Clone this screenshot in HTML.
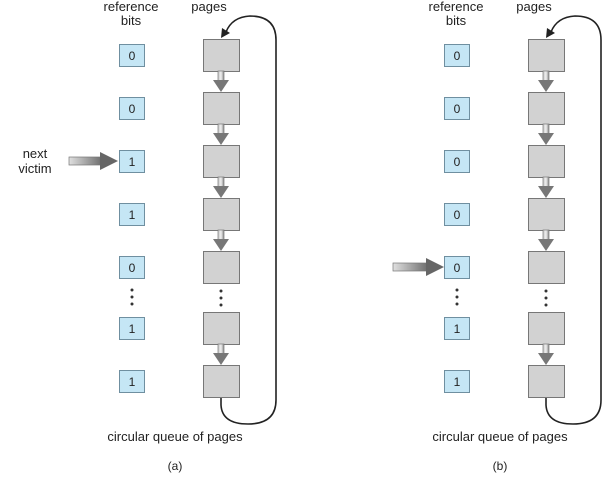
<!DOCTYPE html>
<html><head><meta charset="utf-8"><style>
html,body{margin:0;padding:0;background:#fff;}
svg{display:block;}
text{font-family:"Liberation Sans",sans-serif;fill:#222;}
</style></head><body>
<svg width="611" height="481" viewBox="0 0 611 481" xmlns="http://www.w3.org/2000/svg">
<defs>
<linearGradient id="sh" x1="0" y1="0" x2="1" y2="0">
<stop offset="0" stop-color="#e0e0e0"/><stop offset="1" stop-color="#6a6a6a"/>
</linearGradient>
<linearGradient id="dv" x1="0" y1="0" x2="1" y2="0">
<stop offset="0" stop-color="#c8c8c8"/><stop offset="0.5" stop-color="#f0f0f0"/><stop offset="1" stop-color="#888"/>
</linearGradient>
<g id="down">
<rect x="-3" y="0" width="6" height="10" fill="url(#dv)" stroke="#777" stroke-width="0.7"/>
<polygon points="-8,9 8,9 0,21" fill="#777"/>
</g>
<g id="panel">
<text x="131" y="11" font-size="13" text-anchor="middle">reference</text>
<text x="131" y="25" font-size="13" text-anchor="middle">bits</text>
<text x="209" y="11" font-size="13" text-anchor="middle">pages</text>
<g fill="#c5e6f5" stroke="#6f8fa0" stroke-width="1">
<rect x="119.5" y="44.5" width="25" height="22"/>
<rect x="119.5" y="97.5" width="25" height="22"/>
<rect x="119.5" y="150.5" width="25" height="22"/>
<rect x="119.5" y="203.5" width="25" height="22"/>
<rect x="119.5" y="256.5" width="25" height="22"/>
<rect x="119.5" y="317.5" width="25" height="22"/>
<rect x="119.5" y="370.5" width="25" height="22"/>
</g>
<g fill="#d2d2d2" stroke="#777" stroke-width="1">
<rect x="203.5" y="39.5" width="36" height="32"/>
<rect x="203.5" y="92.5" width="36" height="32"/>
<rect x="203.5" y="145.5" width="36" height="32"/>
<rect x="203.5" y="198.5" width="36" height="32"/>
<rect x="203.5" y="251.5" width="36" height="32"/>
<rect x="203.5" y="312.5" width="36" height="32"/>
<rect x="203.5" y="365.5" width="36" height="32"/>
</g>
<use href="#down" x="221" y="71"/>
<use href="#down" x="221" y="124"/>
<use href="#down" x="221" y="177"/>
<use href="#down" x="221" y="230"/>
<use href="#down" x="221" y="344"/>
<g fill="#333">
<circle cx="132" cy="290" r="1.5"/><circle cx="132" cy="297" r="1.5"/><circle cx="132" cy="304" r="1.5"/>
<circle cx="221" cy="291" r="1.5"/><circle cx="221" cy="298" r="1.5"/><circle cx="221" cy="305" r="1.5"/>
</g>
<path d="M276,400 L276,40 Q276,16 250,16 Q232,17 226,32" fill="none" stroke="#222" stroke-width="1.6"/>
<polygon points="221,38 222,28 230,33" fill="#222"/>
<path d="M221,398 L221,405 Q222,424 248,424 Q276,424 276,400" fill="none" stroke="#222" stroke-width="1.6"/>
<text x="175" y="441" font-size="13" text-anchor="middle">circular queue of pages</text>
</g>
</defs>
<use href="#panel" x="0" y="0"/>
<use href="#panel" x="325" y="0"/>
<g font-size="12" text-anchor="middle">
<text x="132" y="60">0</text><text x="132" y="113">0</text><text x="132" y="166">1</text><text x="132" y="219">1</text><text x="132" y="272">0</text><text x="132" y="333">1</text><text x="132" y="386">1</text>
<text x="457" y="60">0</text><text x="457" y="113">0</text><text x="457" y="166">0</text><text x="457" y="219">0</text><text x="457" y="272">0</text><text x="457" y="333">1</text><text x="457" y="386">1</text>
</g>
<text x="175" y="470" font-size="12" text-anchor="middle">(a)</text>
<text x="500" y="470" font-size="12" text-anchor="middle">(b)</text>
<text x="35" y="158" font-size="13" text-anchor="middle">next</text>
<text x="35" y="173" font-size="13" text-anchor="middle">victim</text>
<g>
<rect x="69" y="157" width="34" height="8" fill="url(#sh)" stroke="#777" stroke-width="0.7"/>
<polygon points="100,152 118,161 100,170" fill="#666"/>
</g>
<g>
<rect x="393" y="263" width="36" height="8" fill="url(#sh)" stroke="#777" stroke-width="0.7"/>
<polygon points="426,258 444,267 426,276" fill="#666"/>
</g>
</svg>
</body></html>
